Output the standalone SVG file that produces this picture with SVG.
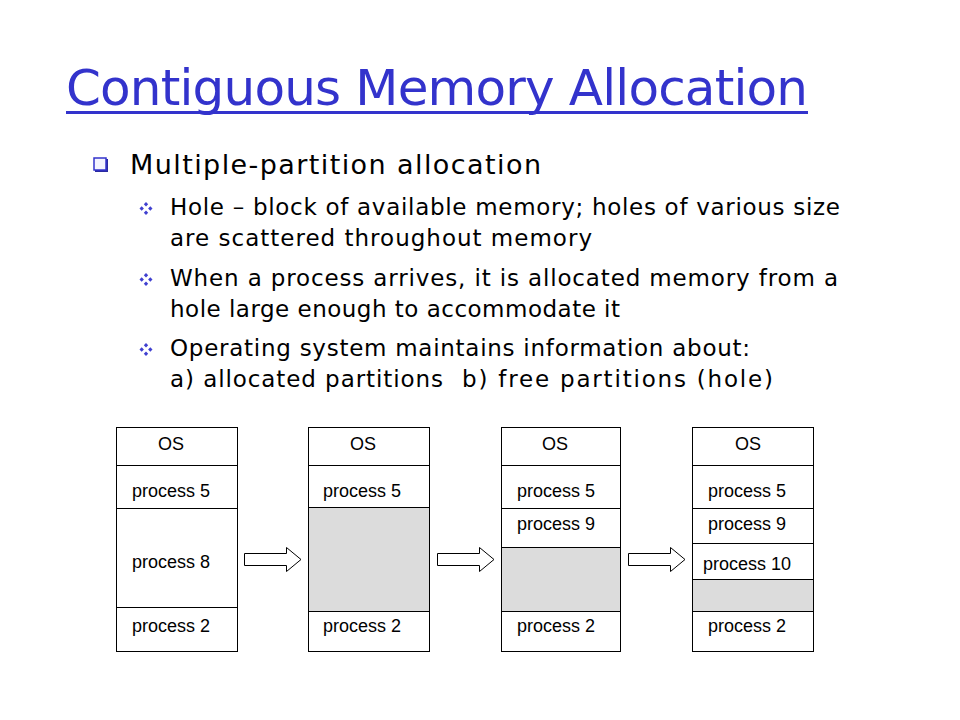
<svg xmlns="http://www.w3.org/2000/svg" width="960" height="720" viewBox="0 0 960 720">
<style>
.title{font-family:"DejaVu Sans","Liberation Sans",sans-serif;font-size:50px;fill:#3333cc}
.lvl1{font-family:"DejaVu Sans","Liberation Sans",sans-serif;font-size:27px;fill:#000}
.lvl2{font-family:"DejaVu Sans","Liberation Sans",sans-serif;font-size:23px;fill:#000}
.box{fill:#fff;stroke:#000;stroke-width:1}
.hole{fill:#dcdcdc;stroke:#000;stroke-width:1}
.lbl{font-family:"Liberation Sans",Arial,sans-serif;font-size:18px;fill:#000}
.arrow{fill:#fff;stroke:#000;stroke-width:1}
.dia{fill:#4040d0}
</style>
<defs>
<g id="diam">
<path class="dia" d="M0,-6.5 L2.2,-4.3 L0,-2.1 L-2.2,-4.3Z M0,6.5 L2.2,4.3 L0,2.1 L-2.2,4.3Z M-6.5,0 L-4.3,-2.2 L-2.1,0 L-4.3,2.2Z M6.5,0 L4.3,-2.2 L2.1,0 L4.3,2.2Z"/>
</g>
</defs>
<rect width="960" height="720" fill="#fff"/>
<g id="title">
<text class="title" x="66" y="105" textLength="742">Contiguous Memory Allocation</text>
<rect x="66" y="111" width="742" height="3" fill="#3333cc"/>
</g>
<g id="bullets">
<rect x="95" y="159" width="13" height="13" fill="#2a2aa0"/>
<rect x="94" y="158" width="12" height="12" fill="#f4f4ff" stroke="#3333cc" stroke-width="1.5"/>
<text class="lvl1" x="130" y="174" textLength="411">Multiple-partition allocation</text>
<use href="#diam" x="146" y="208.5"/>
<text class="lvl2" x="170" y="215" textLength="670">Hole – block of available memory; holes of various size</text>
<text class="lvl2" x="170" y="246" textLength="422">are scattered throughout memory</text>
<use href="#diam" x="146" y="279.5"/>
<text class="lvl2" x="170" y="286" textLength="668">When a process arrives, it is allocated memory from a</text>
<text class="lvl2" x="170" y="317" textLength="450">hole large enough to accommodate it</text>
<use href="#diam" x="146" y="349.5"/>
<text class="lvl2" x="170" y="356" textLength="580">Operating system maintains information about:</text>
<text class="lvl2" x="170" y="387" textLength="273">a) allocated partitions</text>
<text class="lvl2" x="462" y="387" textLength="311">b) free partitions (hole)</text>
</g>
<g id="mem1">
<rect class="box" x="116.5" y="427.5" width="121" height="224"/>
<line x1="116.5" y1="465.5" x2="237.5" y2="465.5" stroke="#000"/>
<line x1="116.5" y1="508.5" x2="237.5" y2="508.5" stroke="#000"/>
<line x1="116.5" y1="607.5" x2="237.5" y2="607.5" stroke="#000"/>
<text class="lbl" x="171" y="450" text-anchor="middle">OS</text>
<text class="lbl" x="132" y="497">process 5</text>
<text class="lbl" x="132" y="568">process 8</text>
<text class="lbl" x="132" y="632">process 2</text>
</g>
<g id="mem2">
<rect class="box" x="308.5" y="427.5" width="121" height="224"/>
<rect class="hole" x="308.5" y="507.5" width="121" height="104"/>
<line x1="308.5" y1="465.5" x2="429.5" y2="465.5" stroke="#000"/>
<text class="lbl" x="363" y="450" text-anchor="middle">OS</text>
<text class="lbl" x="323" y="497">process 5</text>
<text class="lbl" x="323" y="632">process 2</text>
</g>
<g id="mem3">
<rect class="box" x="501.5" y="427.5" width="119" height="224"/>
<rect class="hole" x="501.5" y="547.5" width="119" height="64"/>
<line x1="501.5" y1="465.5" x2="620.5" y2="465.5" stroke="#000"/>
<line x1="501.5" y1="508.5" x2="620.5" y2="508.5" stroke="#000"/>
<text class="lbl" x="555" y="450" text-anchor="middle">OS</text>
<text class="lbl" x="517" y="497">process 5</text>
<text class="lbl" x="517" y="530">process 9</text>
<text class="lbl" x="517" y="632">process 2</text>
</g>
<g id="mem4">
<rect class="box" x="692.5" y="427.5" width="121" height="224"/>
<rect class="hole" x="692.5" y="579.5" width="121" height="32"/>
<line x1="692.5" y1="465.5" x2="813.5" y2="465.5" stroke="#000"/>
<line x1="692.5" y1="508.5" x2="813.5" y2="508.5" stroke="#000"/>
<line x1="692.5" y1="543.5" x2="813.5" y2="543.5" stroke="#000"/>
<text class="lbl" x="748" y="450" text-anchor="middle">OS</text>
<text class="lbl" x="708" y="497">process 5</text>
<text class="lbl" x="708" y="530">process 9</text>
<text class="lbl" x="703" y="570">process 10</text>
<text class="lbl" x="708" y="632">process 2</text>
</g>
<g id="connectors">
<path class="arrow" d="M244.5,553.5 H286.5 V547.5 L301,559.5 L286.5,571.5 V565.5 H244.5 Z"/>
<path class="arrow" d="M437.5,553.5 H479.5 V547.5 L494,559.5 L479.5,571.5 V565.5 H437.5 Z"/>
<path class="arrow" d="M628.5,553.5 H670.5 V547.5 L685,559.5 L670.5,571.5 V565.5 H628.5 Z"/>
</g>
</svg>
